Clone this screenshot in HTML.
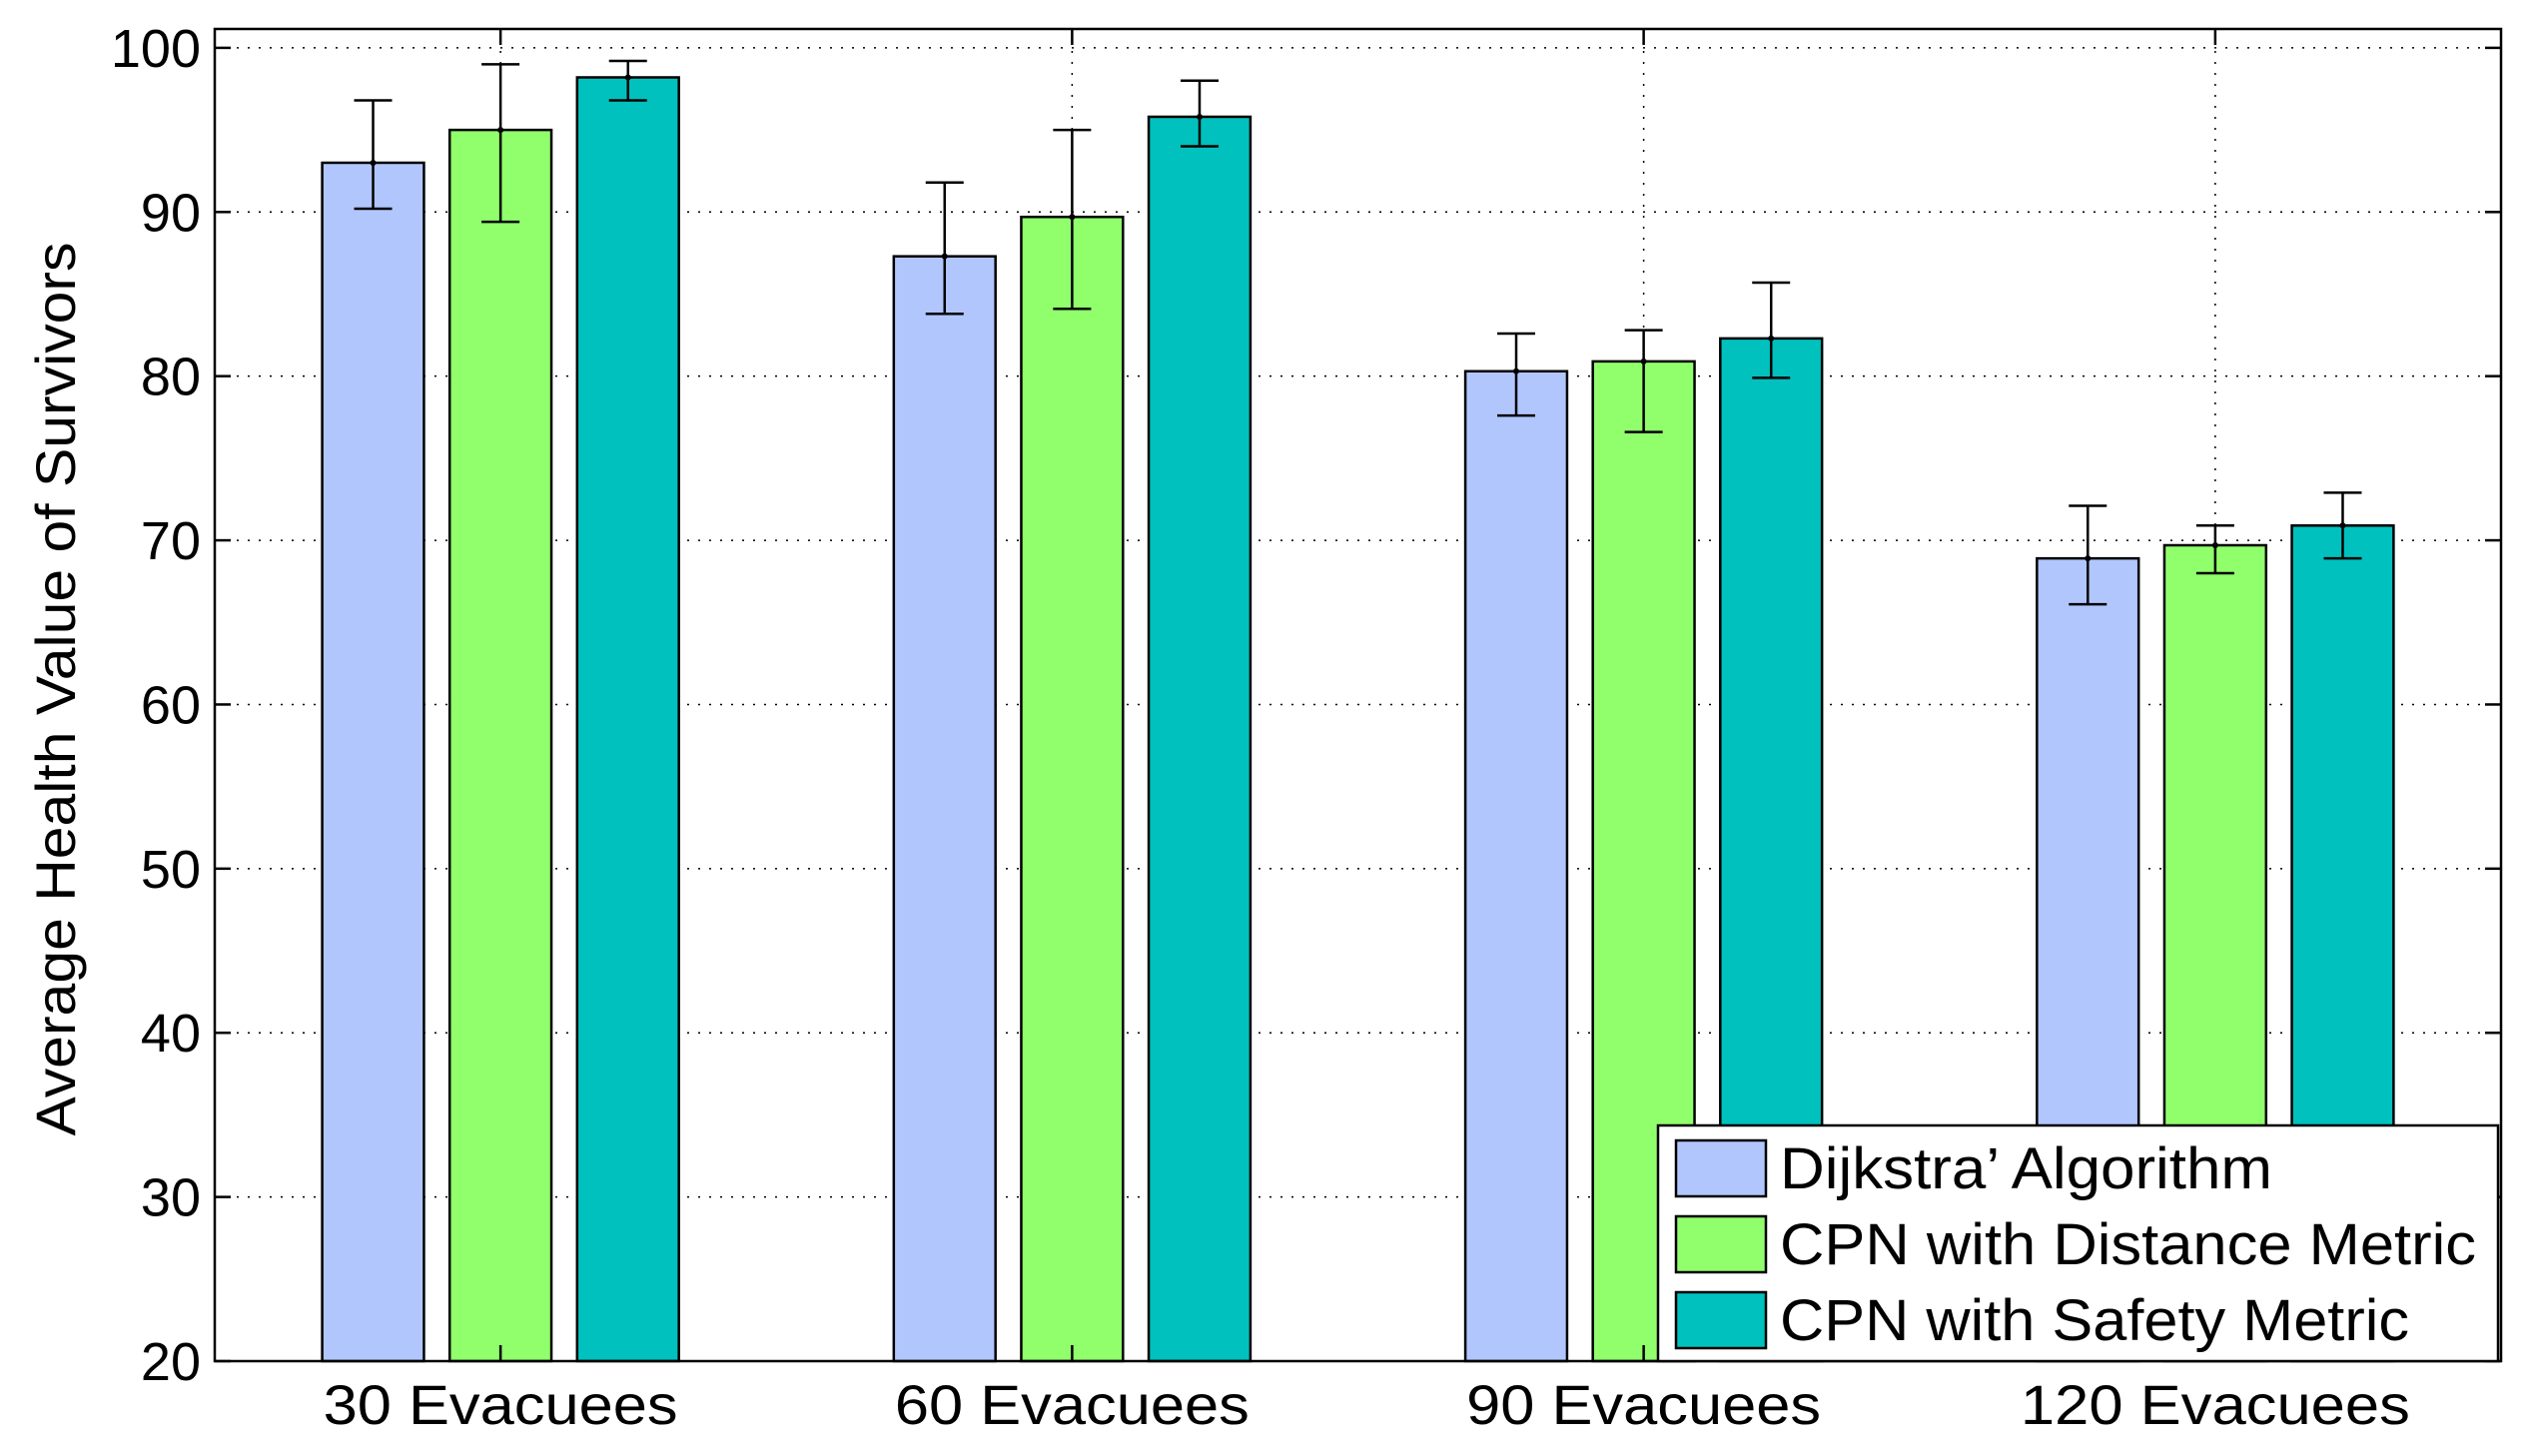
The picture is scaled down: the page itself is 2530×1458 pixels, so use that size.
<!DOCTYPE html>
<html><head><meta charset="utf-8"><style>
html,body{margin:0;padding:0;background:#fff;}
svg{display:block;font-family:"Liberation Sans",Arial,sans-serif;}
</style></head><body>
<svg id="chart" width="2530" height="1458" viewBox="0 0 2530 1458" xmlns="http://www.w3.org/2000/svg"></svg>
<script>
const categories = ["30 Evacuees","60 Evacuees","90 Evacuees","120 Evacuees"];
const seriesNames = ["Dijkstra\u2019 Algorithm","CPN with Distance Metric","CPN with Safety Metric"];
const dijkstraVals = [93.0, 87.3, 80.3, 68.9];
const dijkstraLo = [90.2, 83.8, 77.6, 66.1];
const dijkstraHi = [96.8, 91.8, 82.6, 72.1];
const distanceVals = [95.0, 89.7, 80.9, 69.7];
const distanceLo = [89.4, 84.1, 76.6, 68.0];
const distanceHi = [99.0, 95.0, 82.8, 70.9];
const safetyVals = [98.2, 95.8, 82.3, 70.9];
const safetyLo = [96.8, 94.0, 79.9, 68.9];
const safetyHi = [99.2, 98.0, 85.7, 72.9];
const yTicks = [20,30,40,50,60,70,80,90,100];
const colors = ["#b2c6fe","#91fe6c","#00c1bd"];

const NS="http://www.w3.org/2000/svg";
const svg=document.getElementById('chart');
const L=215,R=2504,T=29,B=1363;
const yMin=20,yMax=101.15;
const y=v=>B-(v-yMin)/(yMax-yMin)*(B-T);
const x=i=>L+(i+0.5)/4*(R-L);
const unit=(R-L)/4;
function mk(tag,attrs,parent){const e=document.createElementNS(NS,tag);for(const k in attrs)e.setAttribute(k,attrs[k]);(parent||svg).appendChild(e);return e;}

// grid
const grid=mk('g',{});


yTicks.forEach(t=>{
  if(t>yMin){const g=mk('line',{x1:L,x2:R,y1:y(t),y2:y(t),stroke:'#000','stroke-width':1.5,'stroke-dasharray':'2 9'},grid);
  
  }
});
categories.forEach((c,i)=>{
  const g=mk('line',{x1:x(i),x2:x(i),y1:T,y2:B,stroke:'#000','stroke-width':1.5,'stroke-dasharray':'2 9'},grid);
  
  
});

// bars
const vals=[dijkstraVals,distanceVals,safetyVals];
const lo=[dijkstraLo,distanceLo,safetyLo];
const hi=[dijkstraHi,distanceHi,safetyHi];
const bw=0.178*unit, off=0.223*unit;
vals.forEach((arr,s)=>{
  arr.forEach((v,i)=>{
    const cx=x(i)+(s-1)*off;
    const r=mk('rect',{x:cx-bw/2,y:y(v),width:bw,height:B-y(v),fill:colors[s],stroke:'#000','stroke-width':2.5});
    
    
    const eb=mk('g',{stroke:'#000','stroke-width':2.5});
    
    
    mk('line',{x1:cx,x2:cx,y1:y(lo[s][i]),y2:y(hi[s][i])},eb);
    mk('line',{x1:cx-19,x2:cx+19,y1:y(lo[s][i]),y2:y(lo[s][i])},eb);
    mk('line',{x1:cx-19,x2:cx+19,y1:y(hi[s][i]),y2:y(hi[s][i])},eb);
    mk('circle',{cx:cx,cy:y(v),r:3,fill:'#000',stroke:'none'},eb);
  });
});

// axes box
const box=mk('rect',{x:L,y:T,width:R-L,height:B-T,fill:'none',stroke:'#000','stroke-width':2.5});


yTicks.forEach(t=>{
  mk('line',{x1:L,x2:L+16,y1:y(t),y2:y(t),stroke:'#000','stroke-width':2.5});
  mk('line',{x1:R,x2:R-16,y1:y(t),y2:y(t),stroke:'#000','stroke-width':2.5});
  const tx=mk('text',{x:L-14,y:y(t)+19,'text-anchor':'end','font-size':54},null);
  tx.textContent=t;
  
  
});
categories.forEach((c,i)=>{
  mk('line',{x1:x(i),x2:x(i),y1:B,y2:B-16,stroke:'#000','stroke-width':2.5});
  mk('line',{x1:x(i),x2:x(i),y1:T,y2:T+16,stroke:'#000','stroke-width':2.5});
  const tx=mk('text',{x:x(i),y:1426,'text-anchor':'middle','font-size':56,textLength:c.length>11?390:355,lengthAdjust:'spacingAndGlyphs'});
  tx.textContent=c;
  
  
});
const yl=mk('text',{x:0,y:0,transform:'translate(75,690) rotate(-90)','text-anchor':'middle','font-size':56,textLength:895,lengthAdjust:'spacingAndGlyphs'});
yl.textContent='Average Health Value of Survivors';



// legend
const lg=mk('g',{});


mk('rect',{x:1660,y:1127,width:841,height:236,fill:'#fff',stroke:'#000','stroke-width':2.5},lg);
const lw=[493,697,630];
seriesNames.forEach((n,s)=>{
  const cy=1170+s*76;
  const e=mk('g',{},lg);
  
  
  mk('rect',{x:1678,y:cy-28,width:90,height:56,fill:colors[s],stroke:'#000','stroke-width':2.5},e);
  const t=mk('text',{x:1782,y:cy+20,'font-size':58,textLength:lw[s],lengthAdjust:'spacingAndGlyphs'},e);
  t.textContent=n;
});
</script>
</body></html>
